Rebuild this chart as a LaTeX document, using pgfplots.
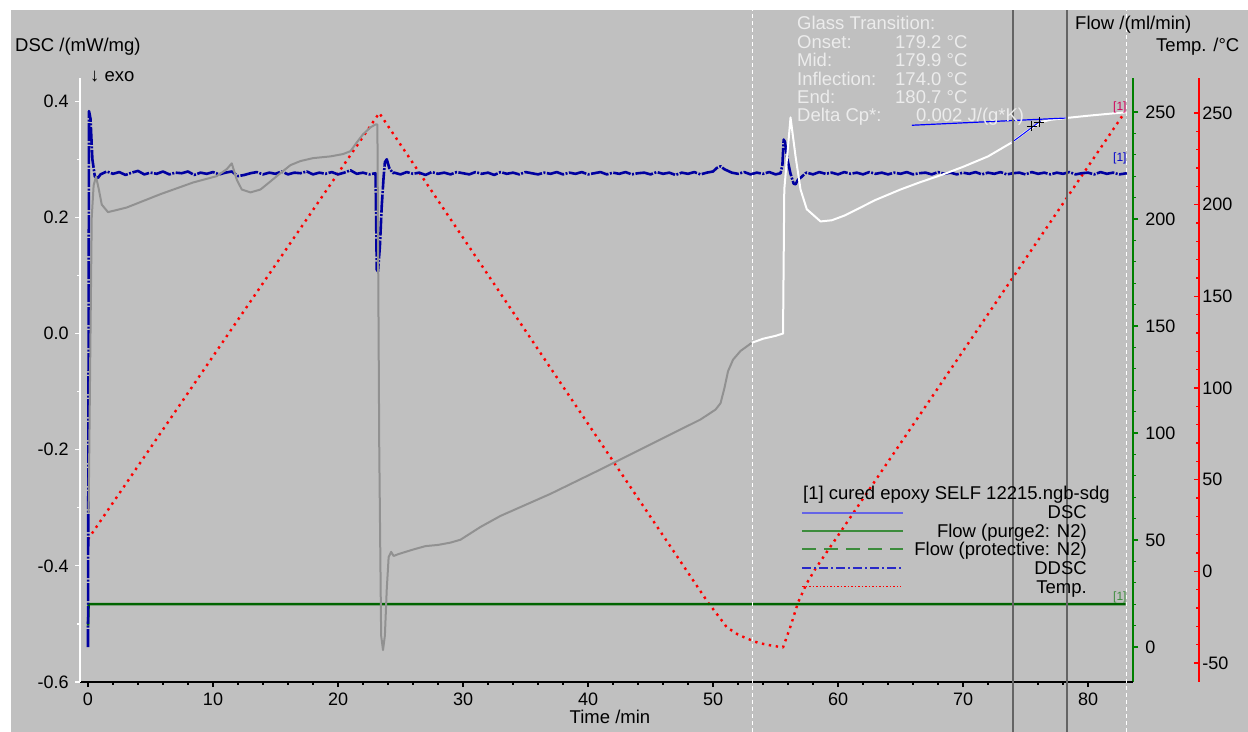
\documentclass[border=0pt]{standalone}
\usepackage{pgfplots}
\pgfplotsset{compat=1.18}
\usepackage{fontspec}
\setmainfont{Liberation Sans}
\definecolor{bg}{RGB}{192,192,192}
\definecolor{dscgrey}{RGB}{145,145,145}
\definecolor{ddscblue}{RGB}{0,0,160}
\definecolor{flowgreen}{RGB}{0,100,0}
\definecolor{axgreen}{RGB}{0,128,0}
\definecolor{tgtext}{RGB}{236,236,236}
\definecolor{legblue}{RGB}{100,100,230}
\definecolor{leggreen}{RGB}{60,140,60}
\definecolor{legddsc}{RGB}{40,40,200}
\definecolor{tagred}{RGB}{210,0,90}
\definecolor{cursor}{RGB}{100,100,100}
\pgfplotsset{
  common/.style={
    at={(0,0)}, anchor=south west,
    scale only axis, width=1053bp, height=604bp,
    xmin=-0.64, xmax=83.6,
    tick align=outside, major tick length=5bp, minor tick length=3bp,
    tick label style={font=\fontsize{18bp}{21bp}\selectfont, text=black},
    clip=false,
    every axis plot/.append style={line join=round},
  }
}
\begin{document}
\fontsize{18.5bp}{22bp}\selectfont
\begin{tikzpicture}[x=1bp,y=1bp]
\useasboundingbox (-80,-50) rectangle (1168,682);
\fill[white] (-80,-50) rectangle (1168,682);
\fill[bg] (-69,-50) rectangle (1168,672);

% Temperature curve (hidden axis)
\begin{axis}[common, hide axis, ymin=-60.36, ymax=269.1]
\addplot[red, line width=2.4bp, dash pattern=on 2.4bp off 4.6bp] coordinates {
(0,17.5) (23.3,250) (49.6,-17) (50.5,-25) (51.1,-30.5) (52,-34.5) (52.7,-36.6)
(53.6,-39) (54.6,-40.4) (55.6,-41.5) (56.2,-30) (56.8,-17) (57.5,-6.5) (58.2,1.5)
(59.8,17.5) (82.9,250)};
\end{axis}

% Flow axis (green, right)
\begin{axis}[common, ymin=-16.36, ymax=265.9,
  axis y line*=right, axis x line=none,
  y axis line style={axgreen, line width=1.6bp, -},
  ytick={0,50,100,150,200,250}, yticklabels={0,50,100,150,200,250},
  minor y tick num=4,
  y tick style={axgreen, line width=1.2bp},
  yticklabel style={xshift=1bp}]
\addplot[flowgreen, line width=2.5bp] coordinates {(0,10) (0.05,20) (83.0,20)};
\end{axis}

% Temperature spine (red)
\begin{axis}[at={(1119bp,0)}, anchor=south west, scale only axis, width=10bp, height=604bp,
  xmin=0, xmax=1, ymin=-60.36, ymax=269.1,
  axis y line*=left, axis x line=none,
  y axis line style={red, line width=1.6bp, -},
  tick align=outside, major tick length=5bp, minor tick length=3bp,
  ytick={-50,0,50,100,150,200,250}, yticklabels={-50,0,50,100,150,200,250},
  minor y tick num=4,
  y tick style={red, line width=1.2bp},
  yticklabel pos=right,
  tick label style={font=\fontsize{18bp}{21bp}\selectfont, text=black},
  yticklabel style={anchor=west, xshift=2bp}]
\end{axis}

% Main DSC axis
\begin{axis}[common, ymin=-0.6, ymax=0.44,
  axis x line*=bottom, axis y line*=left,
  x axis line style={black, line width=1.6bp, -},
  y axis line style={white, line width=1.6bp, -},
  xtick={0,10,20,30,40,50,60,70,80}, xticklabels={0,10,20,30,40,50,60,70,80},
  minor x tick num=4,
  ytick={-0.6,-0.4,-0.2,0,0.2,0.4}, yticklabels={-0.6,-0.4,-0.2,0.0,0.2,0.4},
  minor y tick num=1,
  x tick style={black, line width=1.2bp},
  y tick style={white, line width=1.2bp}]
% DDSC
\addplot[ddscblue, line width=2.6bp, dash pattern=on 18bp off 1.5bp on 2bp off 1.5bp] coordinates {
(0.0,-0.54) (0.05,0.0) (0.08,0.383) (0.2,0.37) (0.35,0.3) (0.55,0.27) (0.8,0.268) (1.0,0.274)
(1.5,.279) (2.0,.275) (2.5,.278) (3.0,.273) (3.5,.277) (4.0,.280) (4.5,.274) (5.0,.277) (5.5,.275)
(6.0,.279) (6.5,.274) (7.0,.277) (7.5,.276) (8.0,.279) (8.5,.273) (9.0,.277) (9.5,.275) (10.0,.278)
(10.5,.274) (11.0,.277) (11.5,.279) (12.0,.271) (12.5,.273) (13.0,.276) (13.5,.278) (14.0,.274)
(14.5,.277) (15.0,.275) (15.5,.279) (16.0,.274) (16.5,.277) (17.0,.276) (17.5,.279) (18.0,.274)
(18.5,.277) (19.0,.275) (19.5,.278) (20.0,.274) (20.5,.277) (21.0,.281) (21.5,.275) (22.0,.277)
(22.5,.274) (23.0,.276) (23.05,0.2) (23.1,0.11) (23.2,0.107) (23.35,0.15) (23.5,0.22) (23.65,0.27)
(23.75,0.295) (23.9,0.30) (24.1,0.285) (24.4,0.276)
(24.5,.277) (25,.274) (25.5,.278) (26,.275) (26.5,.277) (27,.273) (27.5,.278) (28,.275) (28.5,.277)
(29,.274) (29.5,.278) (30,.276) (30.5,.274) (31,.278) (31.5,.275) (32,.277) (32.5,.273) (33,.278)
(33.5,.275) (34,.277) (34.5,.274) (35,.278) (35.5,.276) (36,.274) (36.5,.277) (37,.275) (37.5,.278)
(38,.274) (38.5,.277) (39,.275) (39.5,.278) (40,.274) (40.5,.276) (41,.278) (41.5,.274) (42,.277)
(42.5,.275) (43,.278) (43.5,.274) (44,.276) (44.5,.277) (45,.274) (45.5,.278) (46,.275) (46.5,.277)
(47,.273) (47.5,.277) (48,.275) (48.5,.278) (49,.274) (49.5,.277) (50,.279) (50.3,.285) (50.6,.288)
(50.9,.283) (51.2,.280) (51.5,.277) (52,.275) (52.5,.278) (53,.274) (53.5,.277) (54,.275) (54.5,.278)
(55,.274) (55.4,.276) (55.55,0.29) (55.65,0.334) (55.75,0.33) (55.95,0.30) (56.2,0.275) (56.45,0.258)
(56.6,0.257) (56.8,0.265) (57.1,0.27) (57.4,0.276)
(57.5,.277) (58,.274) (58.5,.278) (59,.275) (59.5,.277) (60,.274) (60.5,.278) (61,.275) (61.5,.277)
(62,.274) (62.5,.278) (63,.275) (63.5,.277) (64,.274) (64.5,.277) (65,.275) (65.5,.278) (66,.274)
(66.5,.276) (67,.277) (67.5,.274) (68,.278) (68.5,.275) (69,.277) (69.5,.274) (70,.277) (70.5,.275)
(71,.278) (71.5,.274) (72,.277) (72.5,.275) (73,.278) (73.5,.274) (74,.276) (74.5,.277) (75,.274)
(75.5,.278) (76,.275) (76.5,.277) (77,.274) (77.5,.277) (78,.275) (78.5,.278) (79,.274) (79.5,.276)
(80,.277) (80.5,.274) (81,.278) (81.5,.275) (82,.277) (82.5,.274) (83.1,.276)};
% DSC grey part
\addplot[dscgrey, line width=2bp] coordinates {
(0.05,-0.31) (0.2,0.0) (0.3,0.2) (0.45,0.255) (0.64,0.27) (0.85,0.25) (1.1,0.222) (1.6,0.209)
(3.1,0.217) (5.8,0.24) (8.4,0.26) (10.3,0.271) (11.1,0.283) (11.5,0.293) (11.9,0.265) (12.3,0.248)
(13.0,0.243) (13.8,0.248) (14.6,0.262) (15.5,0.278) (16.2,0.29) (17.0,0.297) (18.0,0.302)
(19.4,0.305) (20.4,0.309) (21.0,0.314) (21.5,0.329) (22.0,0.343) (22.6,0.355) (23.0,0.36)
(23.15,0.36) (23.3,-0.2) (23.45,-0.52) (23.6,-0.545) (23.75,-0.52) (23.9,-0.44) (24.05,-0.385)
(24.25,-0.376) (24.45,-0.383) (24.8,-0.38) (26,-0.372) (27,-0.366) (28,-0.364) (29,-0.36)
(29.8,-0.355) (31.4,-0.333) (33,-0.314) (37,-0.276) (41,-0.234) (45,-0.191) (49,-0.148)
(50.2,-0.131) (50.6,-0.12) (50.9,-0.095) (51.2,-0.065) (51.6,-0.045) (52.2,-0.03) (53.1,-0.016)};
% DSC white part
\addplot[white, line width=2bp] coordinates {
(53.1,-0.016) (54,-0.009) (55,-0.004) (55.6,0.0) (55.7,0.248) (56.2,0.372) (56.6,0.305)
(57.0,0.248) (57.5,0.214) (58.6,0.193) (59.5,0.195) (60.5,0.203) (61.8,0.217) (63,0.23)
(65,0.248) (66.5,0.26) (68.4,0.274) (70,0.287) (72,0.305) (73.9,0.329) (75,0.347) (76.2,0.364)
(77,0.368) (78.2,0.371) (80,0.375) (82,0.379) (83.1,0.381)};
% Tg construction lines
\addplot[blue, line width=1.2bp] coordinates {(65.9,0.3586) (78.2,0.371)};
\addplot[blue, line width=1bp] coordinates {(73.9,0.329) (76.2,0.366)};
\addplot[black, only marks, mark=+, mark size=5bp, line width=0.8bp] coordinates {(75.5,0.357) (76.1,0.364)};
\end{axis}

% cursor lines
\draw[cursor, line width=1.2bp] (933,-50) -- (933,672);
\draw[cursor, line width=1.2bp] (987,-50) -- (987,672);
\draw[white, line width=0.8bp, dash pattern=on 4bp off 3bp] (672,-50) -- (672,672);
\draw[white, line width=0.8bp, dash pattern=on 4bp off 3bp] (1046,-50) -- (1046,672);

% axis titles
\node[anchor=base west, inner sep=0] at (-65,630) {DSC /(mW/mg)};
\node[anchor=base west, inner sep=0] at (10,600) {↓ exo};
\node[anchor=base, inner sep=0] at (530,-42) {Time /min};
\node[anchor=base west, inner sep=0] at (995,652) {Flow /(ml/min)};
\node[anchor=base west, inner sep=0] at (1076,630) {Temp. /°C};

% Glass transition annotation
\begin{scope}[every node/.style={anchor=base west, inner sep=0, text=tgtext}]
\node at (717,652) {Glass Transition:};
\node at (717,633) {Onset:};      \node at (815,633) {179.2 °C};
\node at (717,615) {Mid:};        \node at (815,615) {179.9 °C};
\node at (717,596) {Inflection:}; \node at (815,596) {174.0 °C};
\node at (717,578) {End:};        \node at (815,578) {180.7 °C};
\node at (717,560) {Delta Cp*:};  \node at (836,560) {0.002 J/(g*K)};
\end{scope}

% curve tags
\node[anchor=base west, inner sep=0, text=tagred, font=\fontsize{12bp}{14bp}\selectfont] at (1033,571) {[1]};
\node[anchor=base west, inner sep=0, text=blue!80!black, font=\fontsize{12bp}{14bp}\selectfont] at (1033,520) {[1]};
\node[anchor=base west, inner sep=0, text=leggreen, font=\fontsize{12bp}{14bp}\selectfont] at (1033,81) {[1]};

% legend
\node[anchor=base west, inner sep=0] at (723,182) {[1] cured epoxy SELF 12215.ngb-sdg};
\draw[legblue, line width=1.5bp] (722,169) -- (823,169);
\draw[leggreen, line width=1.5bp] (722,151) -- (823,151);
\draw[leggreen, line width=1.5bp, dash pattern=on 14bp off 8bp] (722,133) -- (823,133);
\draw[legddsc, line width=1.5bp, dash pattern=on 9bp off 3bp on 2bp off 3bp] (722,114) -- (823,114);
\draw[red, line width=1bp, dash pattern=on 1.5bp off 2bp] (722,95) -- (821,95);
\begin{scope}[every node/.style={anchor=base east, inner sep=0}]
\node at (1007,163) {DSC};
\node at (1007,144) {Flow (purge2: N2)};
\node at (1007,126) {Flow (protective: N2)};
\node at (1007,107) {DDSC};
\node at (1007,88) {Temp.};
\end{scope}
\end{tikzpicture}
\end{document}
